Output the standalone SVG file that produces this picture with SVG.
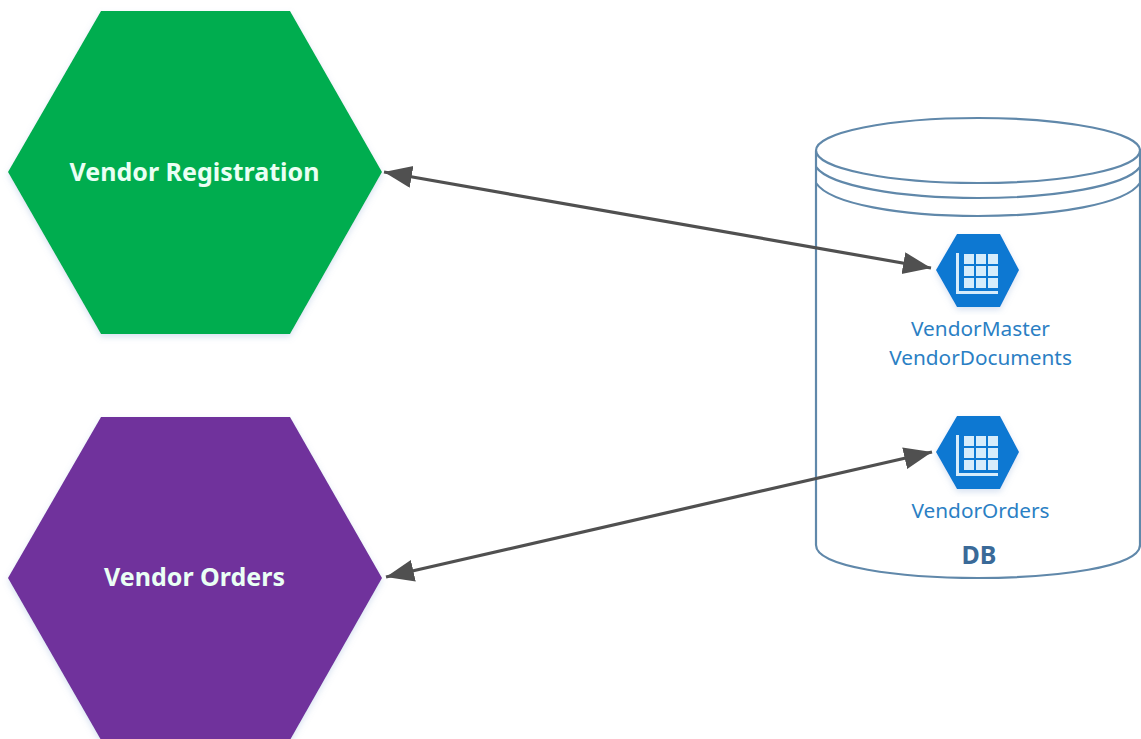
<svg xmlns="http://www.w3.org/2000/svg" width="1141" height="739" viewBox="0 0 1141 739">
<style>
.big{font-family:"Noto Sans","Open Sans",sans-serif;font-weight:700;font-size:25px;fill:#eafff4;text-anchor:middle}
.lbl{font-family:"Noto Sans","Open Sans",sans-serif;font-size:20.8px;fill:#2b7fc4;text-anchor:middle}
.db{font-family:"Noto Sans","Open Sans",sans-serif;font-weight:700;font-size:25px;fill:#3a6a98;text-anchor:middle}
.cyl{fill:none;stroke:#6088aa;stroke-width:2.2}
.cell{fill:#d6ecfb}
.conn{stroke:#505050;stroke-width:3.2;fill:none;marker-start:url(#ah);marker-end:url(#ah)}
</style>
<defs>
<marker id="ah" markerUnits="userSpaceOnUse" markerWidth="30" markerHeight="24" refX="28" refY="11" orient="auto-start-reverse"><path d="M0,0 L28,11 L0,22 Z" fill="#505050"/></marker>
<filter id="sh" x="-10%" y="-10%" width="120%" height="120%"><feDropShadow dx="0" dy="3" stdDeviation="3" flood-color="#7f9fd0" flood-opacity="0.3"/></filter>
<g id="tbl">
<path d="M-21,-19 V22 H21 V19 H-18 V-19 Z" fill="#d6ecfb"/>
<rect class="cell" x="-13" y="-18" width="10" height="10"/><rect class="cell" x="-1" y="-18" width="10" height="10"/><rect class="cell" x="11" y="-18" width="10" height="10"/>
<rect class="cell" x="-13" y="-6" width="10" height="10"/><rect class="cell" x="-1" y="-6" width="10" height="10"/><rect class="cell" x="11" y="-6" width="10" height="10"/>
<rect class="cell" x="-13" y="6" width="10" height="10"/><rect class="cell" x="-1" y="6" width="10" height="10"/><rect class="cell" x="11" y="6" width="10" height="10"/>
</g>
</defs>
<rect width="1141" height="739" fill="#ffffff"/>
<g id="vendor-registration">
<polygon points="101,11 290,11 382,172 290,334 101,334 8,172" fill="#00ad50" filter="url(#sh)"/>
<text class="big" x="194.500" y="181">Vendor Registration</text>
</g>
<g id="vendor-orders">
<polygon points="101,417 290,417 382,578 290,740 101,740 8,578" fill="#70309c" filter="url(#sh)"/>
<text class="big" x="194.500" y="586">Vendor Orders</text>
</g>
<g id="db">
<ellipse class="cyl" cx="978" cy="150.500" rx="162" ry="32.500"/>
<path class="cyl" d="M816,151 V545 C816,567 900,578 978,578 C1056,578 1140,567 1140,545 V151"/>
<path class="cyl" d="M816,167 C830,186 900,198 978,198 C1056,198 1126,186 1140,167"/>
<path class="cyl" d="M816,183 C830,204 900,216 978,216 C1056,216 1126,204 1140,183"/>
<text class="db" x="979" y="564">DB</text>
</g>
<g id="vendor-master">
<polygon points="957,234 1000,234 1019,270 1000,307 957,307 936,270" fill="#0a78d2" filter="url(#sh)"/>
<use href="#tbl" x="977" y="272"/>
<text class="lbl" x="980.500" y="336">VendorMaster</text>
<text class="lbl" x="980.500" y="365">VendorDocuments</text>
</g>
<g id="vendor-orders-table">
<polygon points="957,416 1000,416 1019,452 1000,489 957,489 936,452" fill="#0a78d2" filter="url(#sh)"/>
<use href="#tbl" x="977" y="454"/>
<text class="lbl" x="980.500" y="518">VendorOrders</text>
</g>
<g id="connectors">
<line class="conn" x1="384" y1="172" x2="931" y2="268"/>
<line class="conn" x1="386" y1="577" x2="932" y2="452"/>
</g>
</svg>
